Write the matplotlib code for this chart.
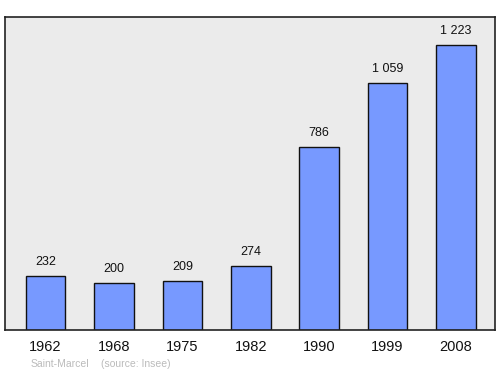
import matplotlib
matplotlib.use("Agg")
import matplotlib.pyplot as plt

years = ["1962", "1968", "1975", "1982", "1990", "1999", "2008"]
population = [232, 200, 209, 274, 786, 1059, 1223]
value_labels = ["232", "200", "209", "274", "786", "1 059", "1 223"]
footer_place = "Saint-Marcel"
footer_source = "(source: Insee)"

plt.rcParams['font.family'] = ['Liberation Sans', 'DejaVu Sans']

fig = plt.figure(figsize=(5.0, 3.74), dpi=100)
ax = fig.add_axes([5/500, 1 - 330/374, 489.5/500, 313/374])
ax.set_facecolor("#ebebeb")

x = list(range(len(years)))
ax.bar(x, population, width=0.578, color="#7799ff", edgecolor="#111111", linewidth=1.0, zorder=2)
for xi, v, lab in zip(x, population, value_labels):
    ax.annotate(lab, (xi, v), xytext=(0, 14), textcoords="offset pixels",
                ha="center", va="center", fontsize=9, color="#111111")

ax.set_xlim(-0.592, 6.563)
ax.set_ylim(0, 1343)
ax.set_xticks(x)
ax.set_xticklabels(years, fontsize=10.5, color="#111111")
ax.tick_params(axis="x", length=0, pad=7)
ax.set_yticks([])
for s in ax.spines.values():
    s.set_color("#222222")
    s.set_linewidth(1.2)

fig.text(30.5/500, 1 - 364/374, footer_place, fontsize=7.5, color="#bbbbbb", va="center", ha="left")
fig.text(101/500, 1 - 364/374, footer_source, fontsize=7.5, color="#bbbbbb", va="center", ha="left")

fig.savefig("out.png", dpi=100, facecolor="white")
